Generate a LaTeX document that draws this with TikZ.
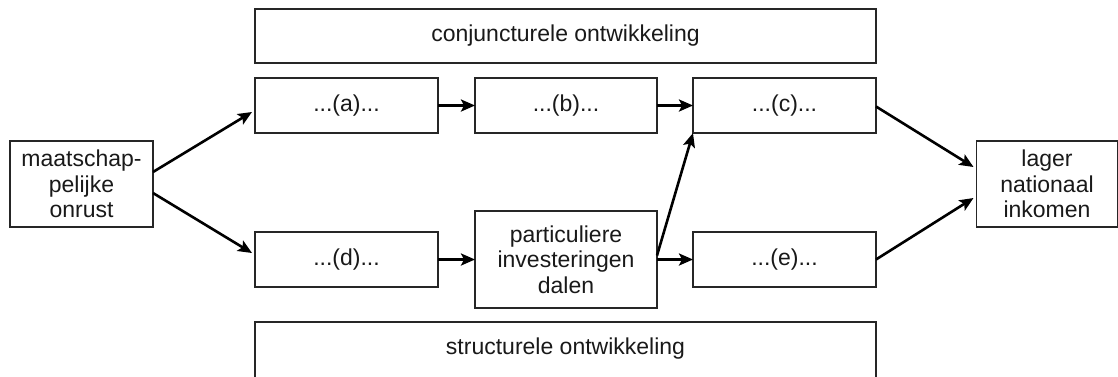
\documentclass[tikz,border=0pt]{standalone}
\usepackage{fontspec}
\setmainfont{Liberation Sans}
\usetikzlibrary{arrows.meta}
\begin{document}
\begin{tikzpicture}[x=1pt,y=-1pt,
  box/.style={draw=black!85,line width=1.3pt,inner sep=0pt,outer sep=0pt,align=center,
    font=\fontsize{23}{25.5}\selectfont,text=black!90},
  arr/.style={line width=2.6pt,-{Stealth[length=14pt,width=12pt,inset=3pt]}}]
\useasboundingbox (0,0) rectangle (1118,376);
\clip (0,0) rectangle (1118,376);
\node[box,minimum width=621pt,minimum height=54pt] (top) at (565.5,36) {conjuncturele ontwikkeling};
\node[box,minimum width=183pt,minimum height=55pt] (a) at (346.5,105.5) {...(a)...};
\node[box,minimum width=182pt,minimum height=55pt] (b) at (566,105.5) {...(b)...};
\node[box,minimum width=183pt,minimum height=55pt] (c) at (784.5,105.5) {...(c)...};
\node[box,minimum width=143pt,minimum height=86pt] (left) at (81.5,184) {maatschap-\\pelijke\\onrust};
\node[box,minimum width=141pt,minimum height=86pt] (right) at (1047,184) {lager\\nationaal\\inkomen};
\node[box,minimum width=183pt,minimum height=55pt] (d) at (346.5,259.5) {...(d)...};
\node[box,minimum width=182pt,minimum height=97pt] (mid) at (566,259.5) {particuliere\\investeringen\\dalen};
\node[box,minimum width=183pt,minimum height=55pt] (e) at (784.5,259.5) {...(e)...};
\node[box,draw=none,minimum width=621pt,minimum height=54pt] (bot) at (565.5,349) {structurele ontwikkeling};
\draw[draw=black!85,line width=1.3pt] (bot.north west) rectangle ([yshift=-12pt]bot.south east);
\draw[arr] ([yshift=12pt]left.east) -- ([xshift=-3pt,yshift=-6.5pt]a.west);
\draw[arr] ([yshift=-9pt]left.east) -- ([xshift=-3pt,yshift=6.5pt]d.west);
\draw[arr] (a.east) -- (b.west);
\draw[arr] (b.east) -- (c.west);
\draw[arr] (d.east) -- (mid.west);
\draw[arr] (mid.east) -- (e.west);
\draw[arr] ([yshift=4pt]mid.east) -- (c.south west);
\draw[arr] ([yshift=-1pt]c.east) -- ([xshift=-3pt,yshift=17pt]right.west);
\draw[arr] (e.east) -- ([xshift=-3pt,yshift=-14pt]right.west);
\end{tikzpicture}
\end{document}
